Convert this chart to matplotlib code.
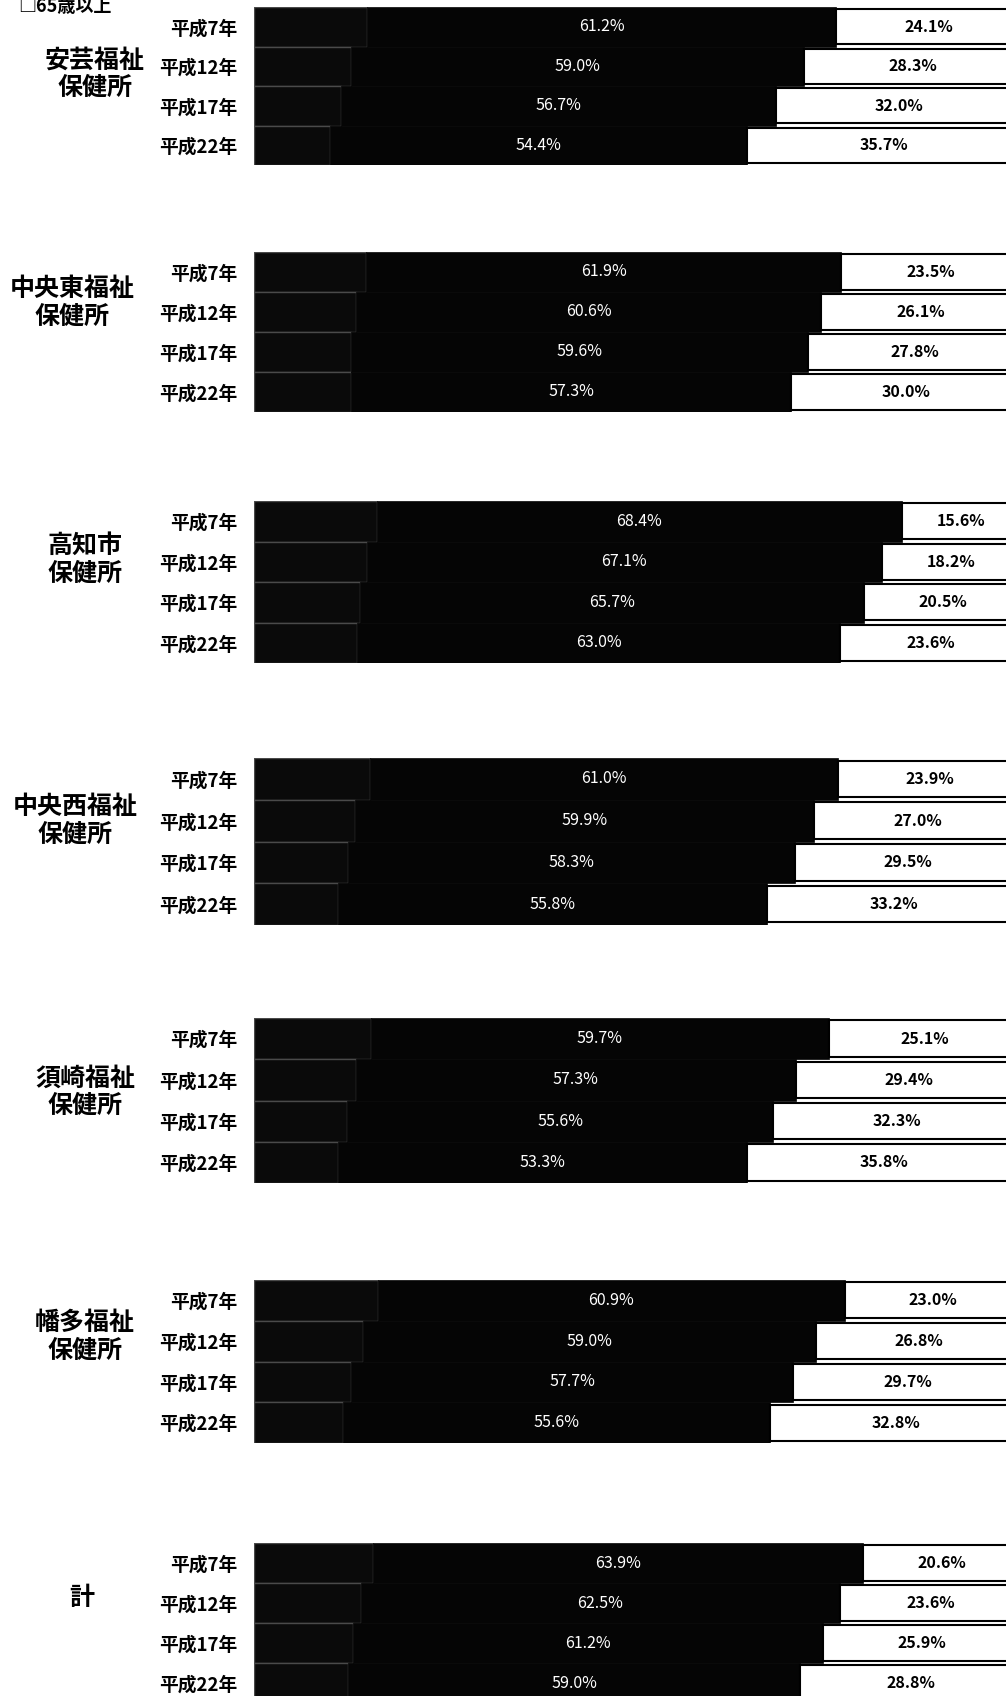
import matplotlib
matplotlib.use("Agg")
import matplotlib.pyplot as plt
from matplotlib.transforms import blended_transform_factory

plt.rcParams['font.family'] = ['Noto Sans CJK JP', 'DejaVu Sans']

# data (share of population, %)
years = ['平成7年', '平成12年', '平成17年', '平成22年']
offices = ['安芸福祉\n保健所', '中央東福祉\n保健所', '高知市\n保健所', '中央西福祉\n保健所',
           '須崎福祉\n保健所', '幡多福祉\n保健所', '計']
age_0_14 = [[14.7, 12.7, 11.3, 9.9],
            [14.6, 13.3, 12.6, 12.7],
            [16.0, 14.7, 13.8, 13.4],
            [15.1, 13.1, 12.2, 11.0],
            [15.2, 13.3, 12.1, 10.9],
            [16.1, 14.2, 12.6, 11.6],
            [15.5, 13.9, 12.9, 12.2]]
age_15_64 = [[61.2, 59.0, 56.7, 54.4],
             [61.9, 60.6, 59.6, 57.3],
             [68.4, 67.1, 65.7, 63.0],
             [61.0, 59.9, 58.3, 55.8],
             [59.7, 57.3, 55.6, 53.3],
             [60.9, 59.0, 57.7, 55.6],
             [63.9, 62.5, 61.2, 59.0]]
age_65 = [[24.1, 28.3, 32.0, 35.7],
          [23.5, 26.1, 27.8, 30.0],
          [15.6, 18.2, 20.5, 23.6],
          [23.9, 27.0, 29.5, 33.2],
          [25.1, 29.4, 32.3, 35.8],
          [23.0, 26.8, 29.7, 32.8],
          [20.6, 23.6, 25.9, 28.8]]

# layout in pixels (top, height) of each group, label centre x / row position
W, H = 1006, 1696
group_top = [7, 252, 501, 758, 1018, 1280, 1543]
group_h = [158, 160, 162, 167, 165, 163, 160]
label_x = [95, 72, 85, 75, 85, 85, 82]
label_row = [1.2, 0.78, 0.95, 1.0, 1.3, 0.9, 0.87]
bar_left = 254

fig = plt.figure(figsize=(W / 100, H / 100), dpi=100)
fig.text(18 / W, 1 - 12 / H, '□65歳以上', fontsize=13, fontweight='bold',
         ha='left', va='baseline')

for g, name in enumerate(offices):
    top, h = group_top[g], group_h[g]
    ax = fig.add_axes([bar_left / W, 1 - (top + h) / H, (W - bar_left) / W, h / H])
    y = list(range(len(years)))
    ax.barh(y, age_0_14[g], height=1.0, color='#0a0a0a', edgecolor='#4a4a4a', linewidth=1.0)
    ax.barh(y, age_15_64[g], left=age_0_14[g], height=1.0, color='#050505', edgecolor='#050505',
            linewidth=0.5)
    left3 = [a + b for a, b in zip(age_0_14[g], age_15_64[g])]
    ax.barh(y, age_65[g], left=left3, height=0.88, color='white', edgecolor='black', linewidth=1.5)
    for i in y:
        ax.text(age_0_14[g][i] + age_15_64[g][i] / 2, i, f'{age_15_64[g][i]:.1f}%',
                color='white', ha='center', va='center', fontsize=11.5)
        ax.text(left3[i] + age_65[g][i] / 2, i, f'{age_65[g][i]:.1f}%',
                color='black', ha='center', va='center', fontsize=11.5, fontweight='bold')
    ax.set_xlim(0, 98.0)
    ax.set_ylim(3.5, -0.5)
    ax.set_yticks(y)
    ax.set_yticklabels(years, fontsize=13.5, fontweight='bold')
    ax.tick_params(axis='y', length=0, pad=12)
    ax.set_xticks([])
    for s in ax.spines.values():
        s.set_visible(False)
    tr = blended_transform_factory(fig.transFigure, ax.transData)
    ax.text(label_x[g] / W, label_row[g], name, transform=tr, ha='center', va='center',
            fontsize=18, fontweight='bold', linespacing=1.2, multialignment='center')

fig.savefig('out.png', dpi=100)
